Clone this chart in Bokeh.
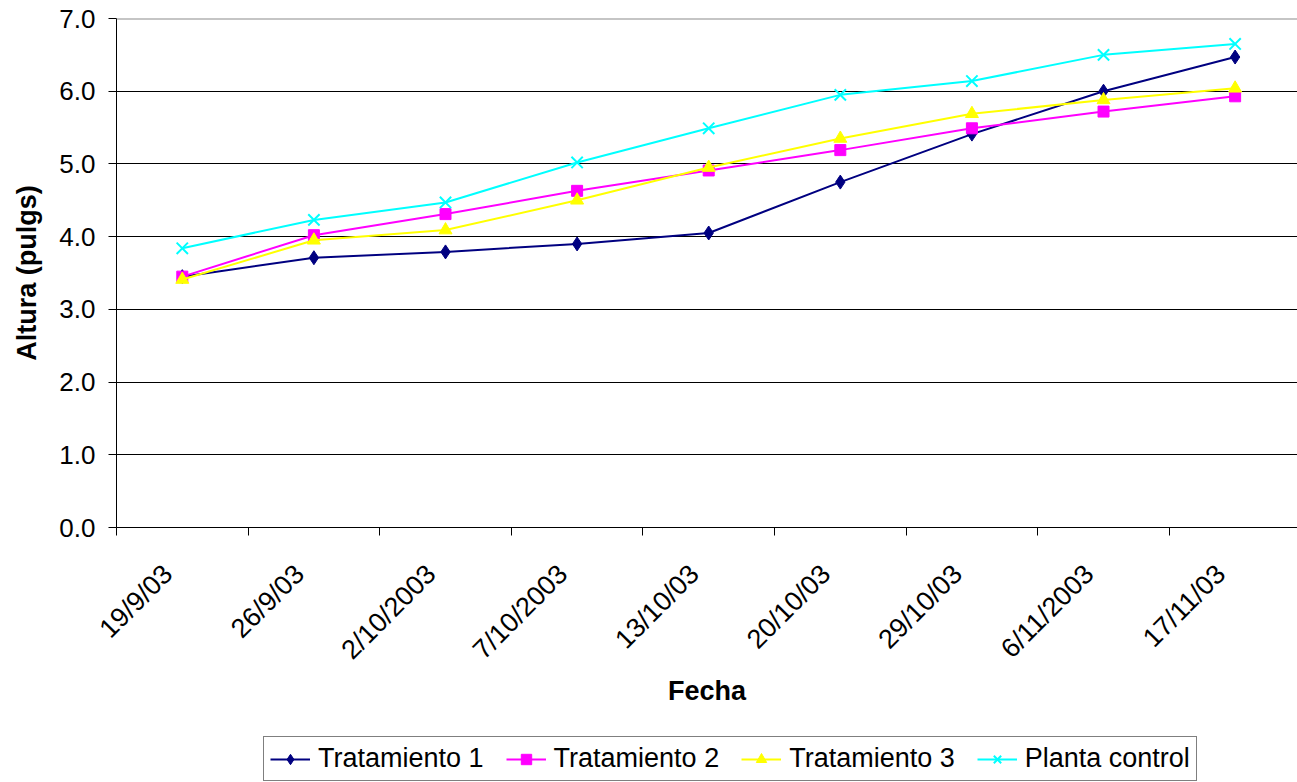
import numpy as np
from bokeh.plotting import figure
from bokeh.layouts import column
from bokeh.models import FixedTicker, Legend, LegendItem, Span, Range1d
from bokeh.embed import file_html
from bokeh.resources import INLINE

fechas = ["19/9/03", "26/9/03", "2/10/2003", "7/10/2003", "13/10/03",
          "20/10/03", "29/10/03", "6/11/2003", "17/11/03"]
trat1 = [3.45, 3.71, 3.79, 3.90, 4.05, 4.75, 5.41, 6.00, 6.47]
trat2 = [3.45, 4.02, 4.31, 4.63, 4.91, 5.19, 5.49, 5.72, 5.93]
trat3 = [3.41, 3.95, 4.09, 4.50, 4.95, 5.35, 5.69, 5.88, 6.04]
control = [3.84, 4.23, 4.47, 5.02, 5.49, 5.95, 6.14, 6.50, 6.65]
y_ticks = [0, 1, 2, 3, 4, 5, 6, 7]

FONT = "Liberation Sans"

x = np.arange(len(fechas)) + 0.5
label_pos = x - 0.11  # rotated labels end slightly left of the category centre

p = figure(frame_width=1181, frame_height=509, output_backend="svg", toolbar_location=None,
           x_range=Range1d(0, 8.974), y_range=Range1d(0, 7),
           min_border_left=116, min_border_top=18, min_border_right=0,
           min_border_bottom=205)

p.background_fill_color = "white"
p.border_fill_color = "white"
p.outline_line_color = None

# grid
p.xgrid.visible = False
p.ygrid.ticker = FixedTicker(ticks=y_ticks[1:-1])
p.ygrid.grid_line_color = "#000000"
p.ygrid.grid_line_width = 1
p.add_layout(Span(location=y_ticks[-1], dimension="width", line_color="#8c8c8c", line_width=2))

# y axis
p.yaxis.ticker = FixedTicker(ticks=y_ticks)
p.yaxis.major_label_overrides = {t: f"{t:.1f}" for t in y_ticks}
p.yaxis.axis_label = "Altura (pulgs)"
p.yaxis.axis_label_text_font = FONT
p.yaxis.axis_label_text_font_style = "bold"
p.yaxis.axis_label_text_font_size = "27px"
p.yaxis.axis_label_text_color = "#000000"
p.yaxis.axis_label_standoff = 14
p.yaxis.major_label_text_font = FONT
p.yaxis.major_label_text_font_size = "26px"
p.yaxis.major_label_text_color = "#000000"
p.yaxis.major_label_standoff = 13
p.yaxis.major_tick_out = 8
p.yaxis.major_tick_in = 0
p.yaxis.minor_tick_line_color = None
p.yaxis.axis_line_color = "#000000"
p.yaxis.major_tick_line_color = "#000000"

# x axis: labels at category centres, ticks between categories
p.xaxis.ticker = FixedTicker(ticks=list(label_pos), minor_ticks=list(range(len(fechas) + 1)))
p.xaxis.major_label_overrides = {float(xi): f for xi, f in zip(label_pos, fechas)}
p.xaxis.major_label_orientation = np.pi / 4
p.xaxis.major_label_text_font = FONT
p.xaxis.major_label_text_font_size = "27px"
p.xaxis.major_label_text_color = "#000000"
p.xaxis.major_label_standoff = 34
p.xaxis.major_tick_line_color = None
p.xaxis.major_tick_out = 2
p.xaxis.minor_tick_out = 8
p.xaxis.minor_tick_in = 0
p.xaxis.minor_tick_line_color = "#000000"
p.xaxis.axis_line_color = "#000000"
p.xaxis.axis_label = "Fecha"
p.xaxis.axis_label_text_font = FONT
p.xaxis.axis_label_text_font_style = "bold"
p.xaxis.axis_label_text_font_size = "27px"
p.xaxis.axis_label_text_color = "#000000"
p.xaxis.axis_label_standoff = -3

series = [
    ("Tratamiento 1", trat1, "#000080", "diamond", 14),
    ("Tratamiento 2", trat2, "#FF00FF", "square", 11),
    ("Tratamiento 3", trat3, "#FFFF00", "triangle", 13),
    ("Planta control", control, "#00FFFF", "x", 16),
]

for name, vals, color, marker, size in series:
    p.line(x, vals, line_color=color, line_width=2)
    p.scatter(x, vals, marker=marker, size=size, fill_color=color,
              line_color=color, line_width=2 if marker == "x" else 1)

# legend strip below the chart (its own small figure so the legend is never clipped)
pl = figure(width=1297, height=50, output_backend="svg", toolbar_location=None,
            x_range=Range1d(-20, -19), y_range=Range1d(-20, -19),
            x_axis_location=None, y_axis_location=None,
            min_border_left=0, min_border_right=0, min_border_top=0, min_border_bottom=0)
pl.grid.visible = False
pl.outline_line_color = None
pl.background_fill_color = "white"
pl.border_fill_color = "white"

items = []
for name, vals, color, marker, size in series:
    l = pl.line(x, vals, line_color=color, line_width=2)
    s = pl.scatter(x, vals, marker=marker, size=size, fill_color=color,
                   line_color=color, line_width=2 if marker == "x" else 1)
    items.append(LegendItem(label=name, renderers=[l, s]))

legend = Legend(items=items, orientation="horizontal", location=(147, 1))
legend.label_text_font = FONT
legend.label_text_font_size = "27px"
legend.label_text_color = "#000000"
legend.border_line_color = "#000000"
legend.border_line_width = 1
legend.glyph_width = 40
legend.glyph_height = 26
legend.spacing = 22
legend.padding = 6
legend.margin = 0
legend.label_standoff = 8
pl.add_layout(legend, "center")

layout = column(p, pl, spacing=0)
open("out.html", "w").write(file_html(layout, INLINE))
